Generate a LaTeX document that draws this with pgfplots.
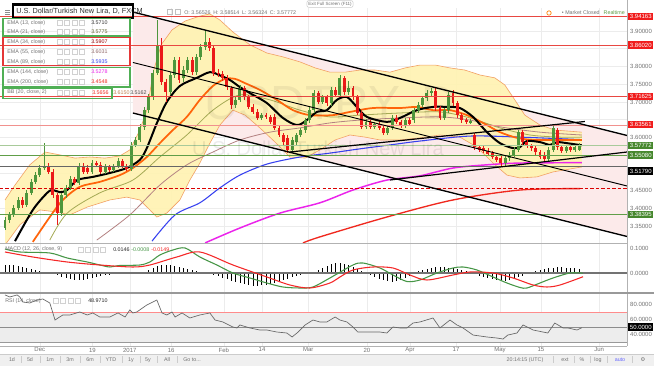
\documentclass[border=0pt]{standalone}
\usepackage{pgfplots}
\pgfplotsset{compat=1.18}
\usepackage{pgfplotstable}
\usepackage{fontspec}
\setmainfont{Liberation Sans}
\newfontfamily\djv{DejaVu Sans}

\definecolor{cgreen}{RGB}{78,150,60}
\definecolor{cred}{RGB}{235,25,25}
\definecolor{gridc}{RGB}{236,236,236}
\definecolor{labc}{RGB}{115,115,115}
\definecolor{chpink}{RGB}{252,234,234}
\definecolor{bbfill}{RGB}{255,243,178}
\definecolor{bbline}{RGB}{242,160,100}
\definecolor{emaor}{RGB}{255,100,10}
\definecolor{emaol}{RGB}{165,170,85}
\definecolor{emamv}{RGB}{180,130,130}
\definecolor{emabl}{RGB}{55,65,240}
\definecolor{emamg}{RGB}{235,35,235}
\definecolor{emard}{RGB}{240,40,30}
\definecolor{hred}{RGB}{232,72,66}
\definecolor{hgreen}{RGB}{96,158,72}
\definecolor{boxgreen}{RGB}{70,135,45}
\definecolor{boxred}{RGB}{240,28,28}
\definecolor{lgreen}{RGB}{80,175,85}
\definecolor{lred}{RGB}{228,55,55}
\definecolor{mgreen}{RGB}{70,150,70}
\definecolor{mred}{RGB}{245,40,40}

\newcommand\fA{\fontsize{4.5}{5.2}\selectfont}
\newcommand\fL{\fontsize{4}{4.6}\selectfont}
\newcommand\fT{\fontsize{5.5}{6.5}\selectfont}
\newcommand\fS{\fontsize{3.4}{4}\selectfont}

% rising (green) candles
\pgfplotstableread{
i o h l c
0 3.345 3.375 3.338 3.368
1 3.368 3.390 3.360 3.382
2 3.382 3.410 3.376 3.401
3 3.401 3.432 3.395 3.424
5 3.410 3.452 3.404 3.444
6 3.444 3.484 3.438 3.475
7 3.475 3.503 3.468 3.494
8 3.494 3.522 3.488 3.514
9 3.514 3.585 3.508 3.520
13 3.387 3.444 3.378 3.438
14 3.438 3.466 3.430 3.458
15 3.458 3.492 3.452 3.483
17 3.472 3.528 3.466 3.520
20 3.503 3.536 3.497 3.528
23 3.503 3.524 3.497 3.517
25 3.508 3.526 3.503 3.520
26 3.520 3.541 3.514 3.534
29 3.511 3.586 3.505 3.579
30 3.579 3.601 3.572 3.593
31 3.593 3.638 3.587 3.630
32 3.630 3.686 3.622 3.677
33 3.677 3.722 3.670 3.714
34 3.714 3.790 3.706 3.782
35 3.782 3.931 3.775 3.861
38 3.728 3.785 3.720 3.776
39 3.776 3.828 3.768 3.818
41 3.768 3.800 3.757 3.790
42 3.790 3.828 3.782 3.818
44 3.784 3.836 3.777 3.827
45 3.827 3.864 3.819 3.855
46 3.855 3.903 3.846 3.869
53 3.692 3.714 3.684 3.706
54 3.706 3.748 3.699 3.739
59 3.655 3.670 3.648 3.663
66 3.565 3.600 3.558 3.593
67 3.587 3.614 3.580 3.607
68 3.607 3.628 3.600 3.621
69 3.621 3.656 3.614 3.649
70 3.649 3.685 3.642 3.677
71 3.677 3.733 3.670 3.725
73 3.700 3.721 3.693 3.714
75 3.697 3.741 3.690 3.734
77 3.720 3.776 3.713 3.768
79 3.728 3.760 3.721 3.739
83 3.630 3.651 3.623 3.644
85 3.630 3.645 3.623 3.638
88 3.613 3.634 3.606 3.627
89 3.627 3.662 3.620 3.655
92 3.635 3.656 3.628 3.649
94 3.649 3.684 3.642 3.677
95 3.677 3.699 3.670 3.692
96 3.692 3.718 3.685 3.711
97 3.711 3.733 3.704 3.725
98 3.725 3.740 3.718 3.731
101 3.655 3.684 3.648 3.677
102 3.677 3.728 3.670 3.720
107 3.642 3.652 3.639 3.646
115 3.528 3.549 3.521 3.542
116 3.542 3.558 3.535 3.551
117 3.551 3.572 3.544 3.565
118 3.565 3.622 3.558 3.615
125 3.539 3.572 3.532 3.565
126 3.565 3.634 3.558 3.627
129 3.562 3.580 3.555 3.573
131 3.565 3.580 3.558 3.573
132 3.5653 3.5851 3.5632 3.5777
}\candG

% falling (red) candles
\pgfplotstableread{
i o h l c
4 3.424 3.433 3.402 3.410
10 3.517 3.528 3.497 3.503
11 3.503 3.510 3.430 3.438
12 3.438 3.445 3.354 3.387
16 3.483 3.490 3.465 3.472
18 3.520 3.527 3.497 3.503
19 3.514 3.522 3.496 3.503
21 3.528 3.535 3.517 3.523
22 3.523 3.530 3.497 3.503
24 3.517 3.523 3.502 3.508
27 3.534 3.540 3.514 3.520
28 3.520 3.526 3.505 3.511
36 3.861 3.880 3.748 3.756
37 3.756 3.765 3.700 3.728
40 3.818 3.826 3.754 3.762
43 3.818 3.826 3.776 3.784
47 3.869 3.880 3.845 3.852
48 3.852 3.860 3.774 3.782
49 3.782 3.792 3.770 3.779
50 3.779 3.786 3.760 3.768
51 3.768 3.775 3.734 3.742
52 3.739 3.746 3.680 3.692
55 3.739 3.746 3.707 3.714
56 3.714 3.721 3.679 3.686
57 3.686 3.693 3.665 3.672
58 3.672 3.679 3.648 3.655
60 3.663 3.669 3.651 3.658
61 3.658 3.664 3.637 3.644
62 3.658 3.665 3.620 3.627
63 3.627 3.634 3.600 3.607
64 3.607 3.614 3.580 3.587
65 3.599 3.606 3.556 3.565
72 3.725 3.732 3.693 3.700
74 3.714 3.720 3.690 3.697
76 3.734 3.741 3.713 3.720
78 3.768 3.774 3.721 3.728
80 3.739 3.746 3.707 3.714
81 3.714 3.721 3.662 3.669
82 3.669 3.676 3.623 3.630
84 3.644 3.650 3.623 3.630
86 3.638 3.645 3.620 3.627
87 3.627 3.634 3.606 3.613
90 3.655 3.662 3.637 3.644
91 3.644 3.650 3.628 3.635
93 3.649 3.656 3.631 3.638
99 3.731 3.738 3.676 3.683
100 3.683 3.690 3.648 3.655
103 3.725 3.733 3.690 3.697
104 3.697 3.704 3.656 3.663
105 3.663 3.670 3.642 3.649
106 3.649 3.656 3.637 3.644
108 3.607 3.614 3.566 3.573
109 3.573 3.580 3.558 3.565
110 3.570 3.577 3.555 3.562
111 3.562 3.569 3.547 3.554
112 3.556 3.563 3.538 3.545
113 3.545 3.552 3.530 3.537
114 3.542 3.549 3.521 3.528
119 3.615 3.622 3.580 3.587
120 3.587 3.594 3.569 3.576
121 3.576 3.583 3.563 3.570
122 3.570 3.577 3.552 3.559
123 3.559 3.566 3.538 3.545
124 3.551 3.558 3.532 3.539
127 3.621 3.628 3.566 3.573
128 3.573 3.580 3.555 3.562
130 3.573 3.580 3.558 3.565
}\candR

\pgfplotstableread{
i p
0 3.424
2.3 3.466
5.7 3.523
9.2 3.559
12.6 3.551
16.1 3.542
19.5 3.545
23 3.542
26.4 3.548
28.7 3.565
31 3.621
32.6 3.677
34.2 3.790
35.9 3.861
38.4 3.903
41.4 3.928
44.8 3.942
47.1 3.948
49.4 3.931
52.4 3.897
56.3 3.861
60.2 3.838
63.9 3.827
67.8 3.813
71.3 3.796
74.7 3.784
78.2 3.784
81.6 3.790
85.1 3.790
88.5 3.784
92 3.796
95.4 3.804
98.9 3.804
102.3 3.796
105.7 3.790
109.2 3.776
112.6 3.768
114.9 3.748
117.2 3.706
119.5 3.663
123 3.635
126.4 3.621
132.6 3.615
}\bbup

\pgfplotstableread{
i p
0 3.297
3.4 3.354
8 3.396
12 3.390
14.9 3.382
18.9 3.404
24.1 3.424
28 3.432
31 3.424
33.3 3.396
34.9 3.376
37.2 3.387
40.2 3.424
42.5 3.480
44.8 3.528
47.1 3.584
49.4 3.635
52.4 3.677
55.2 3.663
58.6 3.627
62.1 3.587
65.5 3.545
69 3.542
72.4 3.565
75.9 3.593
79.3 3.607
82.8 3.601
86.2 3.593
90.8 3.593
95.4 3.599
100 3.607
104.6 3.601
108.5 3.573
112.2 3.528
115.4 3.494
118.4 3.486
122.3 3.489
126 3.503
132.6 3.517
}\bblow

\pgfplotstableread{
i v
0 0.032
1 0.032
2 0.032
3 0.028
4 0.024
5 0.020
6 0.016
7 0.012
8 0.008
9 0.004
10 0
11 -0.004
12 -0.008
13 -0.016
14 -0.020
15 -0.024
16 -0.028
17 -0.028
18 -0.028
19 -0.024
20 -0.020
21 -0.016
22 -0.012
23 -0.008
24 -0.008
25 -0.004
26 -0.004
27 0
28 0
29 0
30 0
31 0.002
32 0.004
33 0.012
34 0.020
35 0.028
36 0.032
37 0.032
38 0.032
39 0.028
40 0.024
41 0.020
42 0.016
43 0.012
44 0.008
45 0.004
46 0.004
47 -0.004
48 -0.008
49 -0.012
50 -0.020
51 -0.024
52 -0.032
53 -0.036
54 -0.040
55 -0.044
56 -0.048
57 -0.052
58 -0.052
59 -0.048
60 -0.048
61 -0.044
62 -0.040
63 -0.036
64 -0.028
65 -0.024
66 -0.016
67 -0.012
68 -0.008
69 -0.004
70 0
71 0.004
72 0.012
73 0.020
74 0.028
75 0.036
76 0.040
77 0.040
78 0.036
79 0.032
80 0.024
81 0.016
82 0.008
83 -0.004
84 -0.008
85 -0.016
86 -0.024
87 -0.028
88 -0.032
89 -0.036
90 -0.032
91 -0.028
92 -0.020
93 -0.012
94 0.004
95 0.008
96 0.012
97 0.016
98 0.020
99 0.024
100 0.024
101 0.024
102 0.020
103 0.020
104 0.016
105 0.012
106 0.008
107 0.004
108 -0.004
109 -0.012
110 -0.016
111 -0.020
112 -0.024
113 -0.028
114 -0.032
115 -0.032
116 -0.028
117 -0.024
118 -0.016
119 -0.012
120 -0.004
121 0.004
122 0.008
123 0.012
124 0.016
125 0.020
126 0.020
127 0.024
128 0.024
129 0.020
130 0.020
131 0.020
132 0.0146
}\hist

\pgfplotsset{
  panel/.style={
    scale only axis, anchor=south west, width=470.25pt,
    xmin=-1.15, xmax=143,
    axis line style={draw=none},
    major tick length=0pt,
    xtick={8.0,20.1,28.7,38.2,50.3,59.1,69.7,83.2,93.1,103.7,113.8,123.2,136.6},
    xmajorgrids,
    major grid style={draw=gridc, line width=0.4pt},
    yticklabel pos=right,
    yticklabel style={font=\fA, text=labc, anchor=west, inner sep=0pt, xshift=2.2pt},
  },
  candlewick/.style={draw=none, mark=none, forget plot, error bars/.cd, y dir=both, y explicit,
    error mark=none, error bar style={draw=#1, line width=0.45pt}},
  candlebody/.style={draw=none, mark=none, forget plot, error bars/.cd, y dir=both, y explicit,
    error mark=none, error bar style={draw=#1, line width=2.2pt}},
}

\begin{document}
\begin{tikzpicture}
\fill[white] (0pt,0pt) rectangle (490.5pt,274.5pt);
\useasboundingbox (0pt,0pt) rectangle (490.5pt,274.5pt);

% ================= MAIN PRICE PANEL =================
\begin{axis}[panel, at={(0pt,92.25pt)}, height=176.25pt,
  ymin=3.3028, ymax=3.9648,
  xticklabels={},
  ytick={3.35,3.40,3.45,3.50,3.55,3.60,3.65,3.70,3.75,3.80,3.85,3.90},
  yticklabels={3.35000,3.40000,3.45000,{},{},3.60000,{},3.70000,3.75000,3.80000,{},3.90000},
  ymajorgrids]
  % channel fill
  \addplot[fill=chpink, draw=none, forget plot] coordinates {(29.4,3.9535) (143,3.6056) (143,3.3211) (29.4,3.6690)} -- cycle;
  % Bollinger band fill
  \addplot[fill=bbfill, fill opacity=0.92, draw=none, forget plot] coordinates {
    (0,3.424) (2.3,3.466) (5.7,3.523) (9.2,3.559) (12.6,3.551) (16.1,3.542) (19.5,3.545) (23,3.542)
    (26.4,3.548) (28.7,3.565) (31,3.621) (32.6,3.677) (34.2,3.790) (35.9,3.861) (38.4,3.903)
    (41.4,3.928) (44.8,3.942) (47.1,3.948) (49.4,3.931) (52.4,3.897) (56.3,3.861) (60.2,3.838)
    (63.9,3.827) (67.8,3.813) (71.3,3.796) (74.7,3.784) (78.2,3.784) (81.6,3.790) (85.1,3.790)
    (88.5,3.784) (92,3.796) (95.4,3.804) (98.9,3.804) (102.3,3.796) (105.7,3.790) (109.2,3.776)
    (112.6,3.768) (114.9,3.748) (117.2,3.706) (119.5,3.663) (123,3.635) (126.4,3.621) (132.6,3.615)
    (132.6,3.517) (126,3.503) (122.3,3.489) (118.4,3.486) (115.4,3.494) (112.2,3.528) (108.5,3.573)
    (104.6,3.601) (100,3.607) (95.4,3.599) (90.8,3.593) (86.2,3.593) (82.8,3.601) (79.3,3.607)
    (75.9,3.593) (72.4,3.565) (69,3.542) (65.5,3.545) (62.1,3.587) (58.6,3.627) (55.2,3.663)
    (52.4,3.677) (49.4,3.635) (47.1,3.584) (44.8,3.528) (42.5,3.480) (40.2,3.424) (37.2,3.387)
    (34.9,3.376) (33.3,3.396) (31,3.424) (28,3.432) (24.1,3.424) (18.9,3.404) (14.9,3.382)
    (12,3.390) (8,3.396) (3.4,3.354) (0,3.297)} -- cycle;
  \addplot[bbline, line width=0.45pt, forget plot] table[x=i,y=p]{\bbup};
  \addplot[bbline, line width=0.45pt, forget plot] table[x=i,y=p]{\bblow};
  % EMA 200
  \addplot[emard, line width=1pt, smooth, forget plot] coordinates {
    (68.5,3.303) (72.4,3.320) (87.8,3.376) (103,3.424) (118.4,3.452) (132.2,3.456)};
  % EMA 144
  \addplot[emamg, line width=1.1pt, smooth, forget plot] coordinates {
    (46,3.303) (54,3.345) (63.2,3.387) (72.4,3.416) (80,3.452) (87.8,3.480) (95.4,3.492)
    (103,3.514) (110.8,3.523) (118.4,3.528) (132.6,3.529)};
  % EMA 89
  \addplot[emabl, line width=0.8pt, smooth, forget plot] coordinates {
    (33.8,3.308) (39.1,3.382) (44.8,3.416) (49.4,3.458) (54,3.494) (60.2,3.525) (67.8,3.545)
    (74.7,3.556) (81.6,3.568) (88.5,3.579) (95.4,3.590) (106.9,3.604) (118.4,3.601) (132.6,3.594)};
  % EMA 55
  \addplot[emamv, line width=0.6pt, smooth, forget plot] coordinates {
    (21.1,3.311) (28.7,3.382) (35.6,3.466) (41.8,3.523) (47.8,3.559) (54,3.593) (60.9,3.615)
    (67.8,3.627) (74.7,3.641) (81.6,3.649) (90.8,3.655) (100,3.658) (106.9,3.649) (113.8,3.630)
    (123,3.615) (132.6,3.607)};
  % EMA 34
  \addplot[emaol, line width=0.6pt, smooth, forget plot] coordinates {
    (10.3,3.311) (14.3,3.387) (21.8,3.444) (29.4,3.480) (35.6,3.545) (41.8,3.607) (47.8,3.677)
    (54,3.720) (60.9,3.706) (67.8,3.677) (74.7,3.658) (81.6,3.663) (90.8,3.669) (100,3.672)
    (106.9,3.655) (113.8,3.627) (120.7,3.607) (127.6,3.601) (132.6,3.601)};
  % EMA 21 (orange)
  \addplot[emaor, line width=1.3pt, smooth, forget plot] coordinates {
    (6.4,3.306) (10.3,3.376) (13.3,3.424) (17.2,3.461) (21.8,3.475) (26.4,3.494) (29.4,3.514)
    (32.6,3.545) (35.6,3.584) (38.6,3.621) (41.8,3.658) (44.8,3.706) (47.8,3.745) (50.6,3.765)
    (52.9,3.765) (55.2,3.753) (58.6,3.734) (62.5,3.706) (66.2,3.677) (70.1,3.663) (75.4,3.663)
    (79.3,3.672) (84.6,3.683) (90.8,3.683) (94.7,3.686) (98.4,3.677) (102.3,3.677) (106.2,3.663)
    (109.9,3.641) (113.8,3.615) (117.7,3.599) (121.4,3.593) (125.3,3.593) (129.2,3.593) (132.6,3.593)};
  % EMA 13 (black)
  \addplot[black, line width=1.5pt, smooth, forget plot] coordinates {
    (2.3,3.308) (6.4,3.396) (9.7,3.444) (11,3.452) (12.6,3.446) (14.3,3.452) (16.6,3.480)
    (20.2,3.489) (24.1,3.500) (28,3.514) (31,3.537) (32.6,3.570) (34.9,3.640) (37.2,3.700)
    (40.2,3.745) (44.1,3.768) (47.1,3.784) (49.4,3.775) (51.7,3.762) (54,3.742) (56.3,3.725)
    (60.2,3.697) (63.9,3.655) (67.1,3.635) (69.4,3.649) (71.7,3.672) (74,3.677) (76.3,3.706)
    (78.6,3.714) (80.9,3.686) (83.2,3.658) (87.8,3.644) (90.8,3.655) (94.7,3.677) (98.4,3.686)
    (102.3,3.686) (104.6,3.683) (107.6,3.658) (110.8,3.615) (113.8,3.584) (116.8,3.570)
    (118.4,3.573) (120,3.590) (123,3.587) (125.3,3.579) (126.9,3.587) (129.2,3.584) (132.6,3.578)};
  % candles
  \addplot[candlewick=cgreen] table[x=i, y expr={(\thisrow{h}+\thisrow{l})/2}, y error expr={(\thisrow{h}-\thisrow{l})/2}]{\candG};
  \addplot[candlewick=cred] table[x=i, y expr={(\thisrow{h}+\thisrow{l})/2}, y error expr={(\thisrow{h}-\thisrow{l})/2}]{\candR};
  \addplot[candlebody=cgreen] table[x=i, y expr={(\thisrow{o}+\thisrow{c})/2}, y error expr={abs(\thisrow{c}-\thisrow{o})/2+0.0004}]{\candG};
  \addplot[candlebody=cred] table[x=i, y expr={(\thisrow{o}+\thisrow{c})/2}, y error expr={abs(\thisrow{c}-\thisrow{o})/2+0.0004}]{\candR};
  % horizontal levels
  \addplot[hred, line width=0.5pt, forget plot] coordinates {(-1.15,3.94163) (143,3.94163)};
  \addplot[hred, line width=0.5pt, forget plot] coordinates {(-1.15,3.86020) (143,3.86020)};
  \addplot[hred, line width=0.6pt, forget plot] coordinates {(-1.15,3.71625) (143,3.71625)};
  \addplot[hred!60, line width=0.5pt, forget plot] coordinates {(-1.15,3.63561) (143,3.63561)};
  \addplot[hgreen!55, line width=0.5pt, forget plot] coordinates {(-1.15,3.57772) (143,3.57772)};
  \addplot[hgreen, line width=0.6pt, forget plot] coordinates {(-1.15,3.55080) (143,3.55080)};
  \addplot[black!60, line width=0.8pt, forget plot] coordinates {(-1.15,3.51790) (143,3.51790)};
  \addplot[red!85!black, line width=1pt, dash pattern=on 2.5pt off 1.6pt, forget plot] coordinates {(-1.15,3.4563) (143,3.4563)};
  \addplot[hgreen, line width=0.6pt, forget plot] coordinates {(-1.15,3.38395) (143,3.38395)};
  % trend lines / channel
  \addplot[black, line width=1pt, forget plot] coordinates {(29.4,3.9535) (143,3.6056)};
  \addplot[black, line width=0.7pt, forget plot] coordinates {(29.4,3.8113) (143,3.4634)};
  \addplot[black, line width=1pt, forget plot] coordinates {(29.4,3.6690) (143,3.3211)};
  \addplot[black, line width=0.9pt, forget plot] coordinates {(65.5,3.5591) (133.3,3.645)};
  \addplot[black, line width=0.9pt, forget plot] coordinates {(88.5,3.4803) (143,3.5591)};
\end{axis}

% ================= MACD PANEL =================
\begin{axis}[panel, at={(0pt,54.75pt)}, height=37.5pt,
  ymin=-0.08, ymax=0.12, xticklabels={},
  ytick={0,0.1}, yticklabels={0.0000,0.1000}]
  \addplot[ycomb, black, line width=0.5pt, mark=none, forget plot] table[x=i,y=v]{\hist};
  \addplot[black!55, line width=0.9pt, forget plot] coordinates {(-1.15,0) (143,0)};
  \addplot[mgreen, line width=0.8pt, smooth, forget plot] coordinates {
    (0,0.096) (3.4,0.084) (10.3,0.08) (14.3,0.06) (18.9,0.044) (21.8,0.032) (24.1,0.024)
    (26.4,0.030) (31,0.032) (33.3,0.044) (35.6,0.072) (38.6,0.092) (41.4,0.100) (44.8,0.064)
    (48.7,0.032) (52.4,0) (56.3,-0.02) (60.2,-0.04) (63.9,-0.056) (67.8,-0.06) (70.8,-0.056)
    (74.7,-0.02) (80,0.032) (82.3,0.04) (86.2,0.02) (89.2,-0.008) (92.4,-0.034) (95.4,-0.028)
    (99.3,0) (103,0.02) (105.3,0.024) (108.5,0.012) (112.2,-0.016) (115.4,-0.04) (118.4,-0.058)
    (120,-0.06) (123,-0.04) (126,-0.02) (129.9,0) (132.9,-0.0008)};
  \addplot[mred, line width=0.8pt, smooth, forget plot] coordinates {
    (0,0.084) (6.4,0.064) (14.3,0.044) (21.8,0.032) (29.4,0.024) (33.3,0.032) (39.5,0.064)
    (44.8,0.084) (52.4,0.032) (60.2,-0.016) (65.5,-0.048) (70.1,-0.06) (74.7,-0.04) (77,-0.016)
    (80,0.012) (84.6,0.024) (89.2,0.02) (93.1,-0.008) (97,-0.028) (103,-0.008) (106.9,0.004)
    (112.2,0) (116.8,-0.02) (121.4,-0.048) (124.6,-0.056) (127.6,-0.048) (132.9,-0.0149)};
\end{axis}

% ================= RSI PANEL =================
\begin{axis}[panel, at={(0pt,15pt)}, height=39.75pt,
  ymin=24.7, ymax=95.3,
  ytick={40,60,80}, yticklabels={40.0000,60.0000,80.0000},
  xticklabels={Dec,19,2017,16,Feb,14,Mar,20,Apr,17,May,15,Jun},
  xticklabel style={font=\fA, text=labc, inner sep=0pt, yshift=-1.2pt}]
  \addplot[fill=black!7, draw=none, forget plot] coordinates {(-1.15,70) (143,70) (143,30) (-1.15,30)} -- cycle;
  \addplot[red!45, line width=0.4pt, forget plot] coordinates {(-1.15,70) (143,70)};
  \addplot[black!45, line width=0.6pt, forget plot] coordinates {(-1.15,50) (143,50)};
  \addplot[black!40, line width=0.4pt, forget plot] coordinates {(-1.15,30) (143,30)};
  \addplot[black!60, line width=0.5pt, forget plot] coordinates {
    (0,92.7) (1.1,90) (2.8,92.7) (3.4,90) (4.1,83.3) (5.7,82) (7.4,86) (8.7,87.3) (10.3,82)
    (11.5,59.3) (12.2,62) (13.3,66) (14.9,66) (17.2,70) (18.9,66) (20.2,68.7) (21.8,63.3)
    (24.1,63.3) (26,68.7) (27.6,63.3) (28.7,72.7) (29.4,68.7) (30.3,70) (32.6,79.3) (34.9,86)
    (36.1,68.7) (37.2,66) (38.4,70) (39.1,63.3) (40.7,68.7) (42.5,62) (44.8,66) (47.1,68.7)
    (48.3,59.3) (50.1,56.7) (52.4,50) (53.3,48.7) (54,52.7) (56.3,48.7) (58.6,46) (60.2,46)
    (62.5,43.3) (64.8,42) (66,36.7) (67.4,43.3) (69,52.7) (70.8,59.3) (72.4,56.7) (74,56.7)
    (75.9,63.3) (77,59.3) (78.6,56.7) (80,50) (81.1,43.3) (83.2,43.3) (84.6,43.3) (86.2,43.3)
    (87.8,42) (89.2,50) (90.8,48.7) (92.4,48.7) (93.8,55.3) (95.4,56.7) (98.4,62) (100,48.7)
    (102.3,59.3) (103.9,52.7) (105.3,48.7) (107.6,39.3) (110.8,36.7) (113.1,35.3) (114.5,34)
    (115.6,39.3) (117.7,42) (119.1,52.7) (121.4,46) (123.7,43.3) (124.8,42) (126.4,55.3)
    (128.3,48.7) (129.4,48.7) (131.5,46) (132.6,48.97)};
\end{axis}

% ================= DECORATIONS (pixel coordinates) =================
\begin{scope}[x=0.75pt,y=-0.75pt,shift={(0pt,274.5pt)}]
  % watermark
  \node[text=black, opacity=0.06, font=\fontsize{36}{36}\selectfont] at (330,106) {USDTRY, D};
  \node[text=black, opacity=0.08, font=\fontsize{15}{15}\selectfont] at (318,148) {U.S. Dollar/Turkish New Lira};
  % separators
  \draw[black!30, line width=0.5pt] (627,0) -- (627,346);
  \draw[black!30, line width=0.5pt] (0,243) -- (627,243);
  \draw[black!40, line width=1.3pt] (0,293) -- (654,293);
  \draw[black!30, line width=0.5pt] (0,346) -- (627,346);
  % bottom toolbar
  \fill[black!6] (0,354) rectangle (654,366);
  \draw[black!20, line width=0.4pt] (0,354) -- (654,354);
  \foreach \xx/\tt in {12/1d,30/5d,50/1m,70/3m,90/6m,111/YTD,131/1y,148/5y,167/All,192/{Go to...}}
    \node[font=\fL, text=labc, inner sep=0] at (\xx,360) {\tt};
  \foreach \xx in {21,40,60,80,100,122,140,157,177}
    \draw[black!20, line width=0.3pt] (\xx,356.5) -- (\xx,363.5);
  \node[font=\fL, text=labc, inner sep=0] at (525,360) {20:14:15 (UTC)};
  \node[font=\fL, text=labc, inner sep=0] at (565,360) {ext};
  \node[font=\fL, text=labc, inner sep=0] at (582,360) {\%};
  \node[font=\fL, text=labc, inner sep=0] at (598,360) {log};
  \node[font=\fL, text=blue!60, inner sep=0] at (620,360) {auto};
  \node[font=\fL\djv, text=labc, inner sep=0] at (643,360) {⚙};
  \foreach \xx in {553,574,590,607,632}
    \draw[black!20, line width=0.3pt] (\xx,356.5) -- (\xx,363.5);
  % header
  \foreach \yy in {10,12,14} \draw[black!45, line width=0.4pt] (5,\yy) -- (10,\yy);
  \node[anchor=west, inner sep=0, font=\fT, text=black!80] at (16,11.5) {U.S. Dollar/Turkish New Lira, D, FXCM};
  \draw[black, line width=1.8pt] (13,4.5) rectangle (133,18);
  \draw[black!25, line width=0.4pt] (167,9.5) rectangle (172,14.5);
  \draw[black!25, line width=0.4pt] (175,9.5) rectangle (180,14.5);
  \node[anchor=west, inner sep=0, font=\fL, text=labc] at (184,12.5) {O: 3.56526\enspace H: 3.58514\enspace L: 3.56324\enspace C: 3.57772};
  \node[draw=black!20, fill=white, rounded corners=1.5pt, inner sep=1pt, font=\fS, text=labc] at (330,4) {Exit Full Screen (F11)};
  \draw[orange, line width=0.5pt] (549,13) circle (2.2);
  \node[anchor=east, inner sep=0, font=\fL] at (625,13) {\textcolor{labc}{• Market Closed}\hspace{3pt}\textcolor{hgreen}{Realtime}};
  % indicator legend
  \foreach \yy/\tt in {23/{EMA (13, close)},32/{EMA (21, close)},42/{EMA (34, close)},52/{EMA (55, close)},62/{EMA (89, close)},72/{EMA (144, close)},82/{EMA (200, close)},92.5/{BB (20, close, 2)}}{
    \node[anchor=west, inner sep=0, font=\fL, text=labc] at (7,\yy) {\tt};
    \foreach \xx in {57,64.5,72,79.5} \draw[black!18, fill=white, line width=0.35pt] (\xx,\yy-2.6) rectangle (\xx+5.2,\yy+2.6);
  }
  \node[anchor=west, inner sep=0, font=\fL, text=black!80] at (91,23) {3.5710};
  \node[anchor=west, inner sep=0, font=\fL, text=emaol!60!black] at (91,32) {3.5775};
  \node[anchor=west, inner sep=0, font=\fL, text=red!60!black] at (91,42) {3.5907};
  \node[anchor=west, inner sep=0, font=\fL, text=emamv!80!black] at (91,52) {3.6031};
  \node[anchor=west, inner sep=0, font=\fL, text=emabl] at (91,62) {3.5935};
  \node[anchor=west, inner sep=0, font=\fL, text=emamg] at (91,72) {3.5278};
  \node[anchor=west, inner sep=0, font=\fL, text=emard] at (91,82) {3.4548};
  \node[anchor=west, inner sep=0, font=\fL, text=emard] at (92,92.5) {3.5656};
  \node[anchor=west, inner sep=0, font=\fL, text=bbline!80!black] at (113,92.5) {3.6150};
  \node[anchor=west, inner sep=0, font=\fL, text=black!70] at (130,92.5) {3.5162};
  \draw[lgreen, line width=1.1pt] (3,18.5) rectangle (130,36);
  \draw[lred, line width=1.1pt] (3,37.5) rectangle (130,65.5);
  \draw[lgreen, line width=1.1pt] (3,67.5) rectangle (130,87);
  \draw[lgreen, line width=1.1pt] (3,88) rectangle (112,98.5);
  % MACD legend
  \node[anchor=west, inner sep=0, font=\fL, text=labc] at (5,249.5) {MACD (12, 26, close, 9)};
  \foreach \xx in {78,85.5,93,100.5} \draw[black!18, fill=white, line width=0.35pt] (\xx,246.9) rectangle (\xx+5.2,252.1);
  \node[anchor=west, inner sep=0, font=\fL, text=black!85] at (113,249.5) {0.0146};
  \node[anchor=west, inner sep=0, font=\fL, text=mgreen] at (131,249.5) {-0.0008};
  \node[anchor=west, inner sep=0, font=\fL, text=mred] at (151,249.5) {-0.0149};
  % RSI legend
  \node[anchor=west, inner sep=0, font=\fL, text=labc] at (5,301) {RSI (14, close)};
  \foreach \xx in {53,60.5,68,75.5} \draw[black!18, fill=white, line width=0.35pt] (\xx,298.4) rectangle (\xx+5.2,303.6);
  \node[anchor=west, inner sep=0, font=\fL, text=black!85] at (88,301) {48.9710};
  % price labels boxes
  \tikzset{pb/.style={anchor=west, inner sep=0pt, minimum width=18.8pt, minimum height=5.4pt, font=\fA, text=white}}
  \node[pb, fill=boxred] at (628,16.2) {3.94163};
  \node[pb, fill=boxred] at (628,45.1) {3.86020};
  \node[pb, fill=boxred] at (628,96.2) {3.71625};
  \node[pb, fill=boxred] at (628,124.9) {3.63561};
  \node[pb, fill=boxgreen] at (628,145.4) {3.57772};
  \node[pb, fill=boxgreen] at (628,155) {3.55080};
  \node[pb, fill=black] at (628,171) {3.51790};
  \node[pb, fill=boxgreen] at (628,214.2) {3.38395};
  \node[pb, fill=black] at (628,327) {50.0000};
\end{scope}
\end{tikzpicture}
\end{document}
